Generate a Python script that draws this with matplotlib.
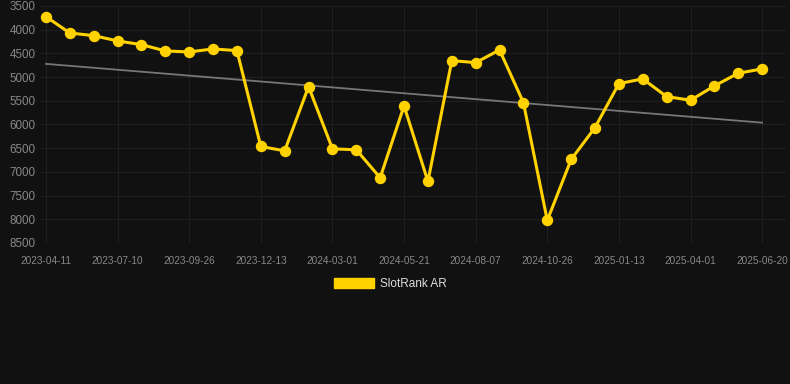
import numpy as np
import matplotlib.pyplot as plt
from matplotlib.patches import Patch

plt.rcParams['font.family'] = ['Liberation Sans', 'DejaVu Sans']

# tick labels shown every third point
date_labels = ['2023-04-11', '2023-07-10', '2023-09-26', '2023-12-13', '2024-03-01',
               '2024-05-21', '2024-08-07', '2024-10-26', '2025-01-13', '2025-04-01',
               '2025-06-20']
rank = [3725, 4070, 4125, 4237, 4315, 4448, 4469, 4406, 4441, 6464,
        6555, 5200, 6513, 6534, 7124, 5607, 7202, 4652, 4695, 4427,
        5537, 8023, 6738, 6064, 5137, 5038, 5411, 5488, 5186, 4918,
        4827]

bg = '#111111'
gold = '#FFD200'

x = np.arange(len(rank))
slope, icpt = np.polyfit(x, rank, 1)
trend = slope * x + icpt

fig = plt.figure(figsize=(7.9, 3.84), dpi=100, facecolor=bg)
ax = fig.add_axes([40 / 790, 141 / 384, 746 / 790, 237 / 384])
ax.set_facecolor(bg)

ax.plot(x, trend, color='#777777', lw=1.3, zorder=2)
ax.plot(x, rank, color=gold, lw=2.2, marker='o', ms=7.2, zorder=3)

ax.set_xlim(-0.25, 31.0)
ax.set_ylim(8500, 3500)
ax.set_yticks(np.arange(3500, 8501, 500))
ax.set_xticks(x[::3])
ax.set_xticklabels(date_labels)
ax.tick_params(axis='x', colors='#888888', labelsize=7.2, length=0, pad=9)
ax.tick_params(axis='y', colors='#888888', labelsize=8.4, length=0, pad=3)
ax.grid(True, color='#1f1f1f', lw=0.8)
ax.set_axisbelow(True)
for s in ax.spines.values():
    s.set_visible(False)

fig.legend(handles=[Patch(facecolor=gold, edgecolor=gold, label='SlotRank AR')],
           loc='center', bbox_to_anchor=(390 / 790, 1 - 284 / 384), frameon=False,
           fontsize=8.5, labelcolor='#dddddd', handlelength=3.4, handleheight=0.85,
           handletextpad=0.5)

fig.savefig('out.png', dpi=100, facecolor=bg)
